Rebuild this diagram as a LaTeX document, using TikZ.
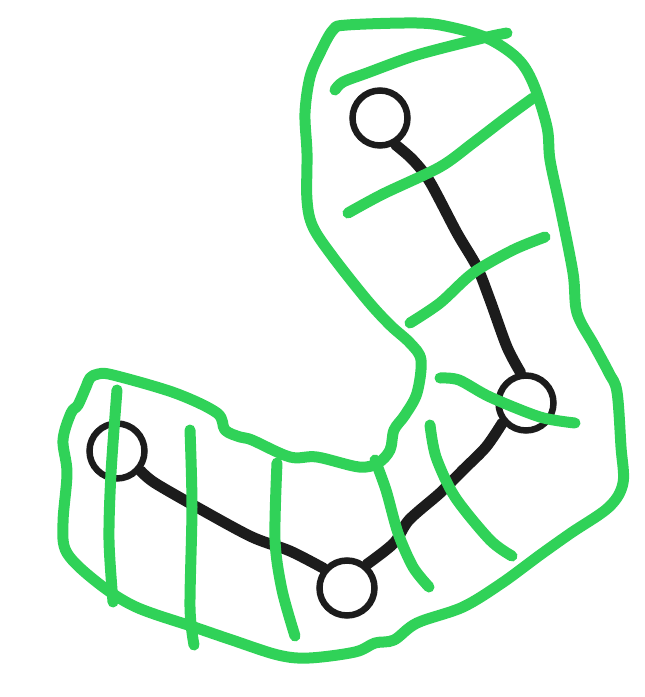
\documentclass[tikz,border=0pt]{standalone}
\definecolor{sketchgreen}{RGB}{48,210,88}
\definecolor{ink}{RGB}{28,28,28}
\begin{document}
\begin{tikzpicture}[x=1pt,y=-1pt,
  outline/.style={draw=sketchgreen,line width=11pt,line cap=round,line join=round},
  hatch/.style={draw=sketchgreen,line width=11pt,line cap=round,line join=round},
  link/.style={draw=ink,line width=11pt,line cap=round,line join=round},
  vertex/.style={circle,draw=ink,line width=6.5pt,minimum size=55pt,inner sep=0pt,fill=none}]
\useasboundingbox (0,0) rectangle (645,697);
% green outline
\draw[outline] plot[smooth cycle,tension=0.55] coordinates {
  (347,25) (417,23) (450,27) (487,38) (517,58) (533,83) (547,127) (550,160)
  (560,207) (573,273) (577,313) (594,345) (609,373) (617,392) (621,447)
  (623,483) (609,507) (571,533) (540,555) (502,583) (463,607) (417,623)
  (394,640) (375,643) (355,652) (309,658) (278,655) (232,640) (194,627)
  (136,607) (98,583) (67,553) (63,523) (67,473) (63,440) (71,413) (78,405)
  (86,387) (90,378) (98,374) (113,375) (175,393) (217,413) (225,430)
  (240,437) (252,440) (290,457) (317,457) (359,467) (378,463) (390,450)
  (394,430) (405,415) (417,393) (421,360) (410,343) (390,325) (367,300)
  (333,257) (313,227) (307,200) (307,153) (305,113) (310,77) (320,53) (333,30)};
% vertices
\node[vertex] (a) at (380,118) {};
\node[vertex] (b) at (526,403) {};
\node[vertex] (c) at (117,451) {};
\node[vertex] (d) at (347,588) {};
% black links
\draw[link] plot[smooth,tension=0.5] coordinates {(a.-60) (413,160) (430,182) (457,233) (477,267) (490,300) (507,347) (b.100)};
\draw[link] plot[smooth,tension=0.5] coordinates {(b.-140) (486,447) (463,470) (440,493) (409,520) (394,543) (d.50)};
\draw[link] plot[smooth,tension=0.5] coordinates {(c.-40) (155,483) (202,510) (252,537) (290,551) (d.140)};
% green hatch strokes
\draw[hatch] plot[smooth,tension=0.5] coordinates {(335,90) (343,82) (367,73) (417,55) (483,38) (507,33)};
\draw[hatch] plot[smooth,tension=0.5] coordinates {(348,213) (383,194) (440,167) (473,143) (507,117) (533,98)};
\draw[hatch] plot[smooth,tension=0.5] coordinates {(410,323) (440,303) (473,273) (513,250) (545,237)};
\draw[hatch] plot[smooth,tension=0.5] coordinates {(440,378) (459,380) (490,397) (540,417) (575,423)};
\draw[hatch] plot[smooth,tension=0.5] coordinates {(430,425) (436,457) (455,497) (490,540) (512,556)};
\draw[hatch] plot[smooth,tension=0.5] coordinates {(375,460) (386,490) (398,533) (413,567) (429,587)};
\draw[hatch] plot[smooth,tension=0.5] coordinates {(277,463) (275,540) (282,590) (295,636)};
\draw[hatch] plot[smooth,tension=0.5] coordinates {(190,430) (192,507) (190,607) (194,645)};
\draw[hatch] plot[smooth,tension=0.5] coordinates {(117,390) (111,473) (109,540) (113,602)};
\end{tikzpicture}
\end{document}
